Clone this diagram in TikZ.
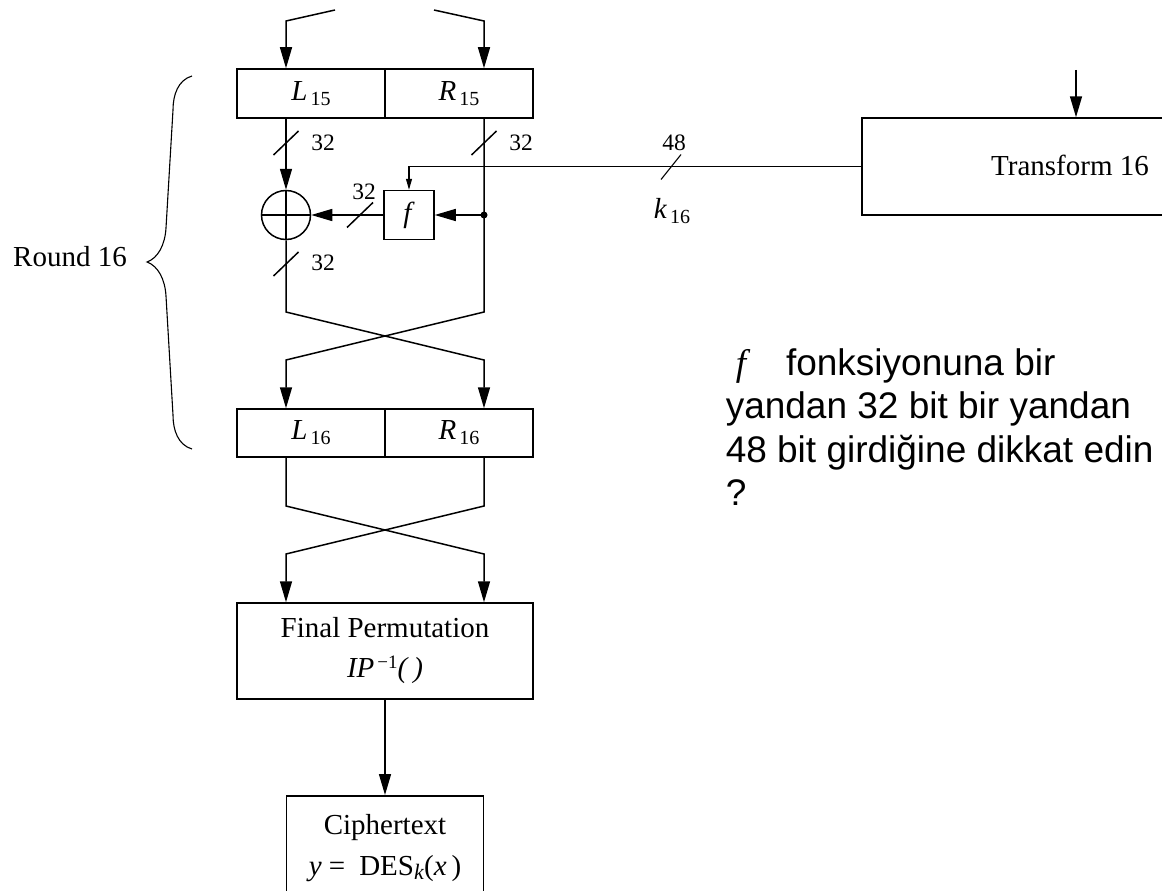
\documentclass[tikz,border=0pt]{standalone}
\usepackage{fontspec}
\setmainfont{Liberation Serif}
\newfontfamily\arialf{Liberation Sans}
\usetikzlibrary{arrows.meta}
\newcommand{\subn}[1]{\hspace{3pt}\raisebox{-5pt}{\fontsize{20}{20}\selectfont #1}}
\begin{document}
\begin{tikzpicture}[x=1pt,y=-1pt, line width=1.5pt,
  every node/.style={font=\fontsize{29}{34}\selectfont},
  box/.style={draw, inner sep=0pt},
  arr/.style={-{Triangle[length=21pt,width=12pt]}},
  sarr/.style={-{Triangle[length=11pt,width=6pt]}},
  lab/.style={font=\fontsize{23.5}{25}\selectfont, inner sep=0pt},
  note/.style={font=\arialf\fontsize{37}{43}\selectfont, inner sep=0pt, anchor=base west}]
\useasboundingbox (0,0) rectangle (1162,891);
\clip (0,0) rectangle (1162,891);
% columns
\coordinate (cl) at (286,0);
\coordinate (cr) at (484,0);
% L15 / R15
\node[box, minimum width=148, minimum height=49] (L15) at (311,93.5) {\textit{L}\subn{15}};
\node[box, minimum width=148, minimum height=49] (R15) at (459,93.5) {\textit{R}\subn{15}};
% inputs
\coordinate (inL) at (335,10);
\coordinate (inR) at (434,10);
\draw[arr] (inL) -- (286,21) -- (L15.north -| cl);
\draw[arr] (inR) -- (484,21) -- (R15.north -| cr);
% XOR and f
\node[circle, draw, minimum size=49, inner sep=0pt] (xor) at (286,215) {};
\draw (xor.north) -- (xor.south);
\draw (xor.west) -- (xor.east);
\node[box, minimum width=50, minimum height=49] (fbox) at (409,215) {\textit{f}};
\coordinate (dot) at (484,215);
\fill (dot) circle (3.5);
\draw[arr] (L15.south -| cl) -- (xor.north);
\draw[arr] (dot) -- (fbox.east);
\draw[arr] (fbox.west) -- (xor.east);
% L16 / R16
\node[box, minimum width=148, minimum height=48] (L16) at (311,433) {\textit{L}\subn{16}};
\node[box, minimum width=148, minimum height=48] (R16) at (459,433) {\textit{R}\subn{16}};
\draw[arr] (xor.south) -- (286,312) -- (484,360) -- (R16.north -| cr);
\draw[arr] (R15.south -| cr) -- (484,312) -- (286,360) -- (L16.north -| cl);
% Final permutation
\node[box, minimum width=296, minimum height=96, align=center, font=\fontsize{29}{42}\selectfont] (FP) at (385,651)
  {Final Permutation\\[-2pt]\textit{IP}\hspace{3pt}\raisebox{9pt}{\fontsize{19}{19}\selectfont −1}\textit{(\hspace{6pt})}};
\draw[arr] (L16.south -| cl) -- (286,506) -- (484,554) -- (FP.north -| cr);
\draw[arr] (R16.south -| cr) -- (484,506) -- (286,554) -- (FP.north -| cl);
% Ciphertext
\node[box, minimum width=197, minimum height=130, anchor=north] (CT) at (385,795) {};
\node (CTt) at (385,828) {Ciphertext};
\node (CTy) at (385,869) {\textit{y} =\hspace{14pt}DES\raisebox{-4pt}{\fontsize{22}{22}\selectfont\textit{k}}(\textit{x\,})};
\draw[arr] (FP.south) -- (CT.north);
% Transform 16
\node[box, minimum width=430, minimum height=97, anchor=west] (tr) at (861,166.5) {};
\node (trt) at (1070,165) {Transform 16};
\coordinate (kin) at (1076,70);
\draw[arr] (kin) -- (tr.north -| kin);
\draw[sarr, line width=1.1pt] (tr.west) -- (fbox.north |- tr.west) -- (fbox.north);
% tick marks
\draw[shift={(286,143)}] (-12.5,12) -- (12.5,-12);
\draw[shift={(484,143)}] (-12.5,12) -- (12.5,-12);
\draw[shift={(360,215)}] (-13,12.5) -- (13,-12.5);
\draw[shift={(286,264)}] (-12.5,12) -- (12.5,-12);
\draw[line width=1.1pt, shift={(671,167)}] (-10,12.5) -- (10,-12.5);
% labels
\node[lab] (l1) at (323,143) {32};
\node[lab] (l2) at (521,143) {32};
\node[lab] (l3) at (364,192) {32};
\node[lab] (l4) at (323,263) {32};
\node[lab] (l5) at (674,143) {48};
\node (k16) at (672,211) {\textit{k}\subn{16}};
% brace
\draw[line width=1.1pt] (192,76) .. controls (178,80) and (173,95) .. (173,110) -- (166,228)
  .. controls (165,245) and (158,258) .. (147,262)
  .. controls (158,266) and (165,279) .. (166,296) -- (173,415)
  .. controls (173,430) and (178,445) .. (192,449);
\node (round) at (70,257) {Round 16};
% note
\node[note] (t1) at (725,375) {\hspace*{10pt}{\rmfamily\itshape f}\hspace*{40pt}fonksiyonuna bir};
\node[note] (t2) at (725,418) {yandan 32 bit bir yandan};
\node[note] (t3) at (725,462) {48 bit girdiğine dikkat edin};
\node[note] (t4) at (725,505) {?};
\end{tikzpicture}
\end{document}
